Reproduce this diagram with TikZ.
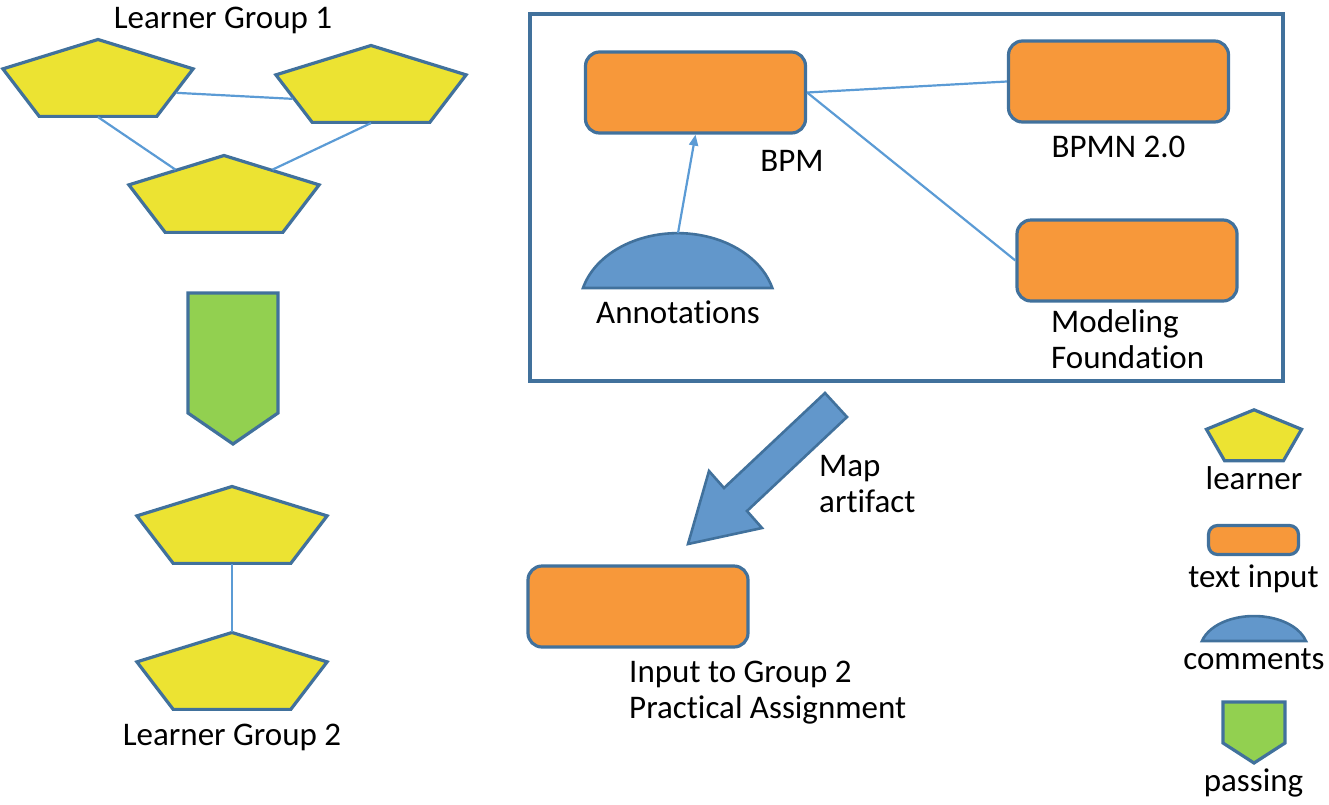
\documentclass[tikz,border=0pt]{standalone}
\usepackage{fontspec}
\setmainfont{Carlito}[Ligatures=NoCommon]
\usepackage{tikz}
\usetikzlibrary{shapes.geometric,arrows.meta}
\definecolor{edge}{RGB}{65,113,156}
\definecolor{learnerfill}{RGB}{236,227,50}
\definecolor{inputfill}{RGB}{247,152,58}
\definecolor{commentfill}{RGB}{98,151,203}
\definecolor{passfill}{RGB}{146,208,80}
\definecolor{linkblue}{RGB}{91,155,213}
\newcommand{\annot}[4]{\draw[comm] (#1,#2) arc[start angle=165,end angle=15,x radius=#3pt,y radius=#4pt] -- cycle;}
\newcommand{\handover}[5]{\draw[pass] (#1,#2) -- ++(#3,0) -- ++(0,{#4-#5}) -- ++({-#3/2},#5) -- ++({-#3/2},{-#5}) -- cycle;}

\begin{document}
\begin{tikzpicture}[x=1pt,y=-1pt,node distance=40pt,>={Triangle[length=11pt,width=9pt]},
    pentagon/.style={regular polygon,regular polygon sides=5,draw=edge,fill=learnerfill,line width=3.2pt,inner sep=0pt},
    learner/.style={pentagon,minimum size=200pt,yscale=0.425},
    keylearner/.style={pentagon,minimum size=100pt,yscale=0.564},
    textin/.style={draw=edge,fill=inputfill,line width=3.2pt,rounded corners=14pt,minimum width=220pt,minimum height=81pt,inner sep=0pt},
    comm/.style={draw=edge,fill=commentfill,line width=2.6pt},
    pass/.style={draw=edge,fill=passfill,line width=3.2pt},
    wire/.style={draw=linkblue,line width=2.2pt},
    txt/.style={font=\fontsize{33pt}{36pt}\selectfont,inner sep=0pt,text height=22pt,text depth=7pt},
    twolines/.style={font=\fontsize{33pt}{36pt}\selectfont,inner sep=0pt,align=left,anchor=base west}]
      \useasboundingbox (0,0) rectangle (1329,804);

      \node[txt] (1) at (223,20.5) {Learner Group 1};
      \node[learner] (2) at (98,82) {};
      \node[learner] (3) at (371,88) {};
      \node[learner] (4) at (224,198) {};
      \draw[wire] (2.side 4) -- (3.side 2);
      \draw[wire] (2.side 3) -- (4.side 1);
      \draw[wire] (3.side 3) -- (4.side 5);

      \handover{188}{293}{90}{151}{31}
      \node[learner] (5) at (232,529) {};
      \node[learner] (6) at (232,675) {};
      \node[txt,below of=6,yshift=-22.5pt] (7) {Learner Group 2};
      \draw[wire] (5.side 3) -- (6.corner 1);

      \draw[edge,line width=3.2pt] (530,14) rectangle (1283,381);
      \node[textin] (8) at (695.5,92.5) {};
      \node[txt,below of=8,xshift=96.5pt,yshift=-31pt] (9) {BPM};
      \node[textin] (10) at (1118.5,81.5) {};
      \node[txt,below of=10,yshift=-28pt] (11) {BPMN 2.0};
      \node[textin] (12) at (1127,260.5) {};
      \node[twolines] (13) at (1051,368) {Modeling\\Foundation};
      \annot{583}{288}{98}{74}
      \coordinate (14) at (678,233);
      \node[txt,below of=14,yshift=-42.5pt] (15) {Annotations};
      \draw[wire] (8.east) -- (10.west);
      \draw[wire] (8.east) -- (12.west);
      \draw[wire,->] (14) -- (8.south);

      \draw[comm] (825,393) -- (847,417) -- (747,511) -- (762,528) -- (688,544) -- (709,471) -- (724,488) -- cycle;
      \node[twolines] (16) at (819,512) {Map\\artifact};
      \node[textin] (17) at (638,606.5) {};
      \node[twolines] (18) at (629,718) {Input to Group 2\\Practical Assignment};

      \node[keylearner] (19) at (1254,438) {};
      \node[txt,below of=19,yshift=-3.5pt] (20) {learner};
      \node[textin,minimum width=90pt,minimum height=29pt,rounded corners=9pt] (21) at (1253.5,540) {};
      \node[txt,below of=21] (22) {text input};
      \annot{1202}{641}{53.8}{33.7}
      \coordinate (23) at (1254,616);
      \node[txt,below of=23,yshift=-5.5pt] (24) {comments};
      \handover{1223}{702}{62}{61}{20}
      \node[txt] (25) at (1253.5,783.5) {passing};
    \end{tikzpicture}
\end{document}
